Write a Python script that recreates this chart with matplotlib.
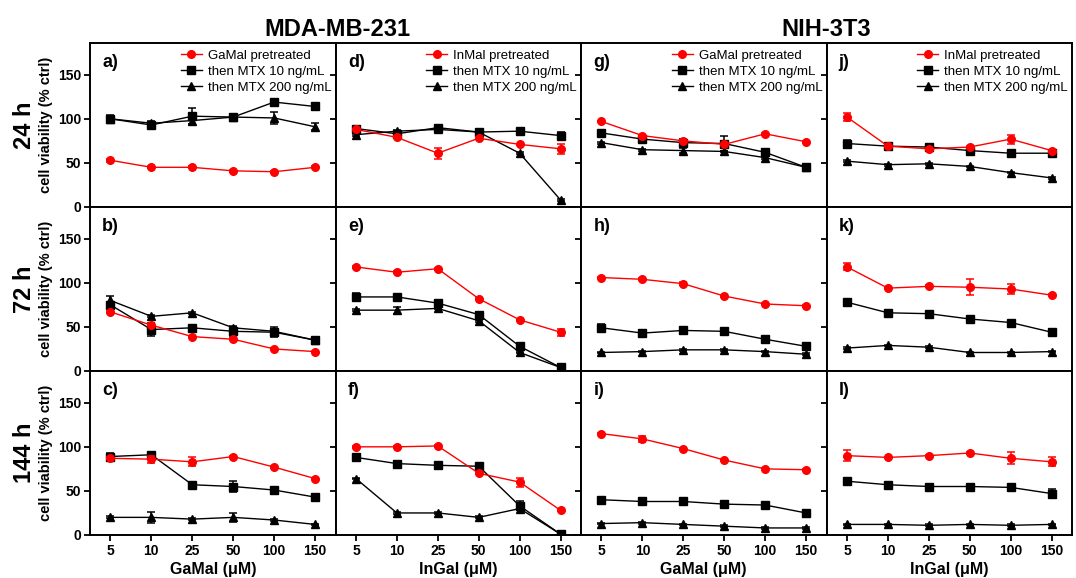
import matplotlib
matplotlib.use("Agg")
import matplotlib.pyplot as plt
from matplotlib.lines import Line2D
import numpy as np

conc_labels = ["5", "10", "25", "50", "100", "150"]
row_labels = ["24 h", "72 h", "144 h"]
panel_letters = [["a)", "d)", "g)", "j)"],
                 ["b)", "e)", "h)", "k)"],
                 ["c)", "f)", "i)", "l)"]]
xlabels = ["GaMal (\u03bcM)", "InGal (\u03bcM)", "GaMal (\u03bcM)", "InGal (\u03bcM)"]
pre_labels = ["GaMal pretreated", "InMal pretreated", "GaMal pretreated", "InMal pretreated"]

# ---- 24 h ----
a_red = [53, 45, 45, 41, 40, 45]
a_red_err = [2, 1, 1, 1, 1, 1]
a_sq = [100, 93, 103, 102, 119, 114]
a_sq_err = [4, 2, 9, 2, 2, 4]
a_tri = [100, 95, 98, 102, 101, 91]
a_tri_err = [2, 2, 4, 2, 7, 4]

d_red = [88, 79, 61, 78, 71, 66]
d_red_err = [1, 1, 6, 1, 1, 6]
d_sq = [89, 83, 90, 85, 86, 81]
d_sq_err = [2, 2, 3, 1, 1, 4]
d_tri = [82, 86, 88, 85, 61, 8]
d_tri_err = [1, 1, 1, 1, 1, 1]

g_red = [97, 81, 75, 71, 83, 74]
g_red_err = [1, 1, 1, 1, 1, 1]
g_sq = [84, 77, 73, 72, 62, 45]
g_sq_err = [1, 1, 4, 8, 2, 1]
g_tri = [73, 65, 64, 63, 56, 45]
g_tri_err = [1, 1, 3, 1, 1, 1]

j_red = [102, 69, 66, 68, 77, 64]
j_red_err = [5, 1, 1, 1, 5, 1]
j_sq = [72, 69, 68, 64, 61, 61]
j_sq_err = [4, 1, 1, 1, 1, 3]
j_tri = [52, 48, 49, 46, 39, 33]
j_tri_err = [1, 1, 1, 1, 1, 1]

# ---- 72 h ----
b_red = [67, 52, 39, 36, 25, 22]
b_red_err = [1, 1, 1, 1, 1, 1]
b_sq = [75, 47, 49, 45, 44, 35]
b_sq_err = [2, 7, 1, 5, 6, 2]
b_tri = [80, 62, 66, 49, 45, 35]
b_tri_err = [5, 1, 1, 2, 1, 1]

e_red = [118, 112, 116, 82, 58, 44]
e_red_err = [1, 1, 1, 1, 1, 4]
e_sq = [84, 84, 77, 64, 28, 4]
e_sq_err = [4, 1, 1, 2, 1, 1]
e_tri = [69, 69, 71, 57, 21, 4]
e_tri_err = [1, 4, 1, 1, 1, 1]

h_red = [106, 104, 99, 85, 76, 74]
h_red_err = [1, 1, 2, 1, 1, 1]
h_sq = [49, 43, 46, 45, 36, 28]
h_sq_err = [4, 4, 4, 1, 1, 4]
h_tri = [21, 22, 24, 24, 22, 19]
h_tri_err = [1, 1, 1, 1, 1, 1]

k_red = [118, 94, 96, 95, 93, 86]
k_red_err = [4, 1, 1, 9, 6, 1]
k_sq = [78, 66, 65, 59, 55, 44]
k_sq_err = [1, 1, 1, 1, 1, 1]
k_tri = [26, 29, 27, 21, 21, 22]
k_tri_err = [1, 1, 1, 1, 1, 1]

# ---- 144 h ----
c_red = [87, 86, 83, 89, 77, 64]
c_red_err = [1, 4, 5, 1, 1, 1]
c_sq = [89, 91, 57, 55, 51, 43]
c_sq_err = [4, 1, 1, 6, 4, 1]
c_tri = [20, 20, 18, 20, 17, 12]
c_tri_err = [1, 6, 1, 5, 1, 1]

f_red = [100, 100, 101, 70, 60, 28]
f_red_err = [1, 1, 1, 1, 5, 1]
f_sq = [88, 81, 79, 78, 33, 1]
f_sq_err = [1, 1, 1, 1, 5, 1]
f_tri = [64, 25, 25, 20, 30, 1]
f_tri_err = [1, 1, 1, 1, 1, 1]

i_red = [115, 109, 98, 85, 75, 74]
i_red_err = [1, 3, 1, 1, 1, 1]
i_sq = [40, 38, 38, 35, 34, 25]
i_sq_err = [1, 1, 1, 1, 1, 1]
i_tri = [13, 14, 12, 10, 8, 8]
i_tri_err = [1, 1, 1, 1, 1, 1]

l_red = [90, 88, 90, 93, 87, 83]
l_red_err = [6, 1, 1, 1, 7, 5]
l_sq = [61, 57, 55, 55, 54, 47]
l_sq_err = [1, 1, 1, 1, 1, 5]
l_tri = [12, 12, 11, 12, 11, 12]
l_tri_err = [1, 1, 1, 1, 1, 1]

panels = [
    [(a_red, a_red_err, a_sq, a_sq_err, a_tri, a_tri_err),
     (d_red, d_red_err, d_sq, d_sq_err, d_tri, d_tri_err),
     (g_red, g_red_err, g_sq, g_sq_err, g_tri, g_tri_err),
     (j_red, j_red_err, j_sq, j_sq_err, j_tri, j_tri_err)],
    [(b_red, b_red_err, b_sq, b_sq_err, b_tri, b_tri_err),
     (e_red, e_red_err, e_sq, e_sq_err, e_tri, e_tri_err),
     (h_red, h_red_err, h_sq, h_sq_err, h_tri, h_tri_err),
     (k_red, k_red_err, k_sq, k_sq_err, k_tri, k_tri_err)],
    [(c_red, c_red_err, c_sq, c_sq_err, c_tri, c_tri_err),
     (f_red, f_red_err, f_sq, f_sq_err, f_tri, f_tri_err),
     (i_red, i_red_err, i_sq, i_sq_err, i_tri, i_tri_err),
     (l_red, l_red_err, l_sq, l_sq_err, l_tri, l_tri_err)],
]

plt.rcParams['font.family'] = ['Liberation Sans', 'DejaVu Sans']

fig, axes = plt.subplots(3, 4, figsize=(10.76, 5.78), dpi=100)
fig.subplots_adjust(left=90/1076, right=1072/1076, top=1-43/578, bottom=1-535/578,
                    wspace=0, hspace=0)

x = np.arange(len(conc_labels))
RED = "#ff0000"
MS = 5.5
LW = 1.0

for r in range(3):
    for c in range(4):
        ax = axes[r, c]
        red, red_e, sq, sq_e, tri, tri_e = panels[r][c]
        ax.errorbar(x, tri, yerr=tri_e, color="black", marker="^", ms=MS, lw=LW,
                    capsize=3, elinewidth=1.1, capthick=1.1, zorder=3)
        ax.errorbar(x, sq, yerr=sq_e, color="black", marker="s", ms=MS, lw=LW,
                    capsize=3, elinewidth=1.1, capthick=1.1, zorder=4)
        ax.errorbar(x, red, yerr=red_e, color=RED, marker="o", ms=MS, lw=LW,
                    capsize=3, elinewidth=1.1, capthick=1.1, zorder=5)
        ax.set_xlim(-0.5, 5.5)
        ax.set_ylim(0, 186)
        ax.set_yticks([0, 50, 100, 150])
        ax.set_xticks(x)
        for sp in ax.spines.values():
            sp.set_linewidth(1.4)
        ax.tick_params(direction="out", length=4, width=1.3, labelsize=10, pad=2.5)
        if c == 0:
            ax.set_yticklabels(["0", "50", "100", "150"], fontweight="bold")
            ax.set_ylabel("cell viability (% ctrl)", fontsize=10.5, fontweight="bold")
            ax.yaxis.set_label_coords(-0.15, 0.5)
        else:
            ax.set_yticklabels([])
        if r == 2:
            ax.set_xticklabels(conc_labels, fontweight="bold")
            ax.set_xlabel(xlabels[c], fontsize=11.5, fontweight="bold", labelpad=3)
        else:
            ax.set_xticklabels([])
        ax.text(0.05, 0.93, panel_letters[r][c], transform=ax.transAxes,
                fontsize=13, fontweight="bold", va="top", ha="left")
        if r == 0:
            handles = [
                Line2D([], [], color=RED, marker="o", ms=MS, lw=LW),
                Line2D([], [], color="black", marker="s", ms=MS, lw=LW),
                Line2D([], [], color="black", marker="^", ms=MS, lw=LW),
            ]
            ax.legend(handles, [pre_labels[c], "then MTX 10 ng/mL", "then MTX 200 ng/mL"],
                      loc="upper right", bbox_to_anchor=(1.0, 0.985), frameon=False,
                      fontsize=9.5, handlelength=1.6, handletextpad=0.45,
                      labelspacing=0.3, borderaxespad=0.0, borderpad=0.3)

for r, lab in enumerate(row_labels):
    ax = axes[r, 0]
    ax.text(-0.265, 0.5, lab, transform=ax.transAxes, rotation=90,
            fontsize=17, fontweight="bold", va="center", ha="center")

fig.text(337/1076, 1-36/578, "MDA-MB-231", fontsize=17, fontweight="bold",
         ha="center", va="baseline")
fig.text(826/1076, 1-36/578, "NIH-3T3", fontsize=17, fontweight="bold",
         ha="center", va="baseline")

fig.savefig("out.png", dpi=100)
